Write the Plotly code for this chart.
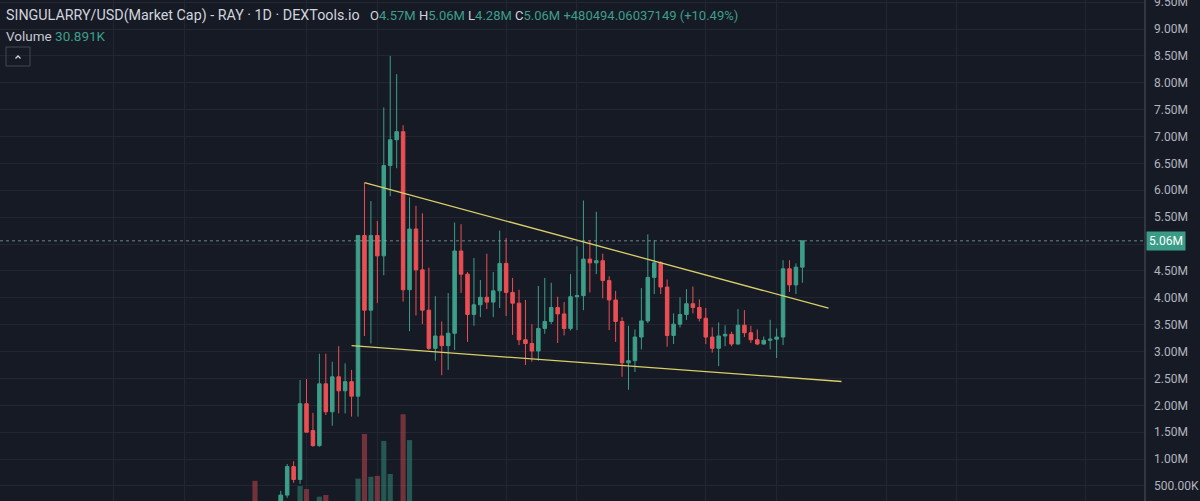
import plotly.graph_objects as go

# ---------------- data ----------------
day_index = list(range(-8, 78))

opens = [0.10, 0.07, 0.09, 0.12, 0.18, 0.33, 0.86, 0.62, 2.03, 1.53,
         1.25, 2.40, 1.88, 2.53, 2.27, 2.44, 2.17, 5.16, 3.77, 5.16,
         4.78, 6.46, 6.94, 7.09, 4.15, 5.28, 4.52, 3.77, 3.06, 3.29,
         3.11, 3.34, 4.87, 4.44, 3.69, 3.87, 4.01, 3.92, 4.13, 4.64,
         4.10, 3.90, 3.22, 3.15, 3.01, 3.43, 3.56, 3.82, 3.70, 3.43,
         4.02, 4.04, 4.72, 4.65, 4.69, 4.32, 3.96, 3.56, 2.79, 2.83,
         3.27, 3.57, 4.38, 4.65, 4.20, 3.30, 3.51, 3.69, 3.89, 3.82,
         3.62, 3.27, 3.06, 3.29, 3.32, 3.14, 3.49, 3.35, 3.22, 3.14,
         3.21, 3.23, 3.27, 4.54, 4.24, 4.57]
highs = [0.14, 0.12, 0.16, 0.19, 0.41, 0.91, 0.96, 2.47, 2.49, 1.86,
         2.96, 2.96, 2.81, 3.10, 2.78, 2.66, 5.16, 6.14, 5.80, 5.43,
         7.54, 8.50, 8.16, 7.21, 5.87, 5.71, 5.57, 4.56, 4.03, 3.56,
         4.09, 5.40, 5.37, 4.48, 4.74, 4.33, 4.82, 4.48, 5.25, 5.11,
         4.37, 4.15, 3.96, 3.51, 4.22, 4.37, 4.28, 4.02, 3.92, 4.44,
         4.96, 5.81, 5.07, 5.60, 4.82, 4.40, 4.13, 3.64, 3.48, 3.41,
         4.18, 5.18, 5.07, 4.68, 4.34, 3.71, 4.01, 4.16, 4.21, 3.97,
         3.81, 3.45, 3.54, 3.49, 3.37, 3.79, 3.77, 3.48, 3.41, 3.28,
         3.59, 3.43, 4.70, 4.70, 4.64, 5.06]
lows = [0.05, 0.05, 0.08, 0.10, 0.15, 0.28, 0.56, 0.54, 1.50, 1.23,
        1.23, 1.82, 1.62, 1.85, 1.85, 1.79, 1.79, 3.29, 3.15, 3.90,
        4.42, 5.89, 6.41, 3.93, 3.38, 3.67, 3.51, 3.03, 2.83, 2.56,
        2.66, 3.03, 4.09, 3.18, 3.48, 3.64, 3.79, 3.64, 3.81, 3.66,
        3.31, 3.12, 2.75, 2.81, 2.83, 3.33, 3.51, 3.16, 3.30, 3.39,
        3.40, 3.77, 4.10, 4.44, 3.99, 3.40, 3.18, 2.53, 2.29, 2.62,
        3.04, 3.53, 4.07, 4.07, 3.09, 3.14, 3.45, 3.59, 3.71, 3.56,
        3.14, 2.98, 2.73, 3.10, 3.10, 3.13, 3.27, 3.16, 3.12, 3.13,
        3.04, 2.88, 3.12, 4.11, 4.07, 4.28]
closes = [0.07, 0.09, 0.12, 0.18, 0.33, 0.86, 0.62, 2.03, 1.50, 1.25,
          2.40, 1.88, 2.53, 2.27, 2.44, 2.17, 5.16, 3.77, 5.16, 4.78,
          6.46, 6.94, 7.09, 4.15, 5.28, 4.52, 3.77, 3.06, 3.29, 3.11,
          3.34, 4.87, 4.44, 3.69, 3.87, 4.01, 3.92, 4.13, 4.64, 4.10,
          3.90, 3.22, 3.15, 3.01, 3.43, 3.56, 3.82, 3.70, 3.43, 4.02,
          4.04, 4.72, 4.65, 4.69, 4.32, 3.96, 3.56, 2.79, 2.83, 3.27,
          3.57, 4.38, 4.65, 4.20, 3.30, 3.51, 3.69, 3.89, 3.82, 3.62,
          3.27, 3.06, 3.29, 3.32, 3.14, 3.49, 3.35, 3.22, 3.14, 3.21,
          3.23, 3.27, 4.54, 4.24, 4.57, 5.06]
volumes_k = [185, 45, 38, 52, 118, 72, 66, 160, 146, 80,
             110, 118, 75, 70, 58, 64, 195, 406, 204, 208,
             373, 217, 84, 499, 377,
             78, 65, 72, 55, 48, 60, 70, 62, 58, 45,
             40, 38, 42, 55, 60, 52, 48, 44, 50, 46,
             41, 52, 49, 38, 35, 40, 47, 62, 58, 54,
             66, 70, 52, 44, 38, 36, 42, 50, 48, 56,
             60, 45, 40, 36, 33, 38, 35, 32, 30, 34,
             31, 29, 28, 33, 30, 27, 29, 64, 48, 40,
             30.891]

# trend lines (day index, market cap in millions)
upper_trend_x = [9, 81.06]
upper_trend_y = [6.141, 3.807]
lower_trend_x = [7, 83.07]
lower_trend_y = [3.109, 2.443]

# vertical grid positions (day index: month starts and 12th of months)
grid_days = [-30, -19, 0, 11, 31, 42, 62, 73, 90, 101, 121]

price_ticks = [0.5, 1.0, 1.5, 2.0, 2.5, 3.0, 3.5, 4.0, 4.5, 5.0,
               5.5, 6.0, 6.5, 7.0, 7.5, 8.0, 8.5, 9.0, 9.5]
price_labels = ["500.00K", "1.00M", "1.50M", "2.00M", "2.50M", "3.00M",
                "3.50M", "4.00M", "4.50M", "", "5.50M", "6.00M", "6.50M",
                "7.00M", "7.50M", "8.00M", "8.50M", "9.00M", "9.50M"]

last_price = 5.06
title_text = "SINGULARRY/USD(Market Cap) - RAY · 1D · DEXTools.io"
ohlc_items = [("O", "4.57M"), ("H", "5.06M"), ("L", "4.28M"), ("C", "5.06M")]
change_text = "+480494.06037149 (+10.49%)"
volume_text = "30.891K"

# ---------------- styling ----------------
BG = "#161a25"
GRID = "#232632"
UP = "#3d9e89"
DOWN = "#ec4f53"
UP_VOL = "rgba(52,150,130,0.5)"
DOWN_VOL = "rgba(225,80,88,0.45)"
TXT = "#d1d4dc"
AXTXT = "#b2b5be"
FONT = "Roboto"

W, H = 1200, 501
PLOT_W = 1145

fig = go.Figure()

vol_colors = [UP_VOL if c >= o else DOWN_VOL for o, c in zip(opens, closes)]
fig.add_trace(go.Bar(x=day_index, y=volumes_k, marker=dict(color=vol_colors, line=dict(width=0)),
                     width=0.8, yaxis="y2", hoverinfo="skip", showlegend=False))

fig.add_trace(go.Candlestick(
    x=day_index, open=opens, high=highs, low=lows, close=closes,
    increasing=dict(line=dict(color=UP, width=1), fillcolor=UP),
    decreasing=dict(line=dict(color=DOWN, width=1), fillcolor=DOWN),
    whiskerwidth=0, hoverinfo="skip", showlegend=False, yaxis="y"))

for tx, ty in ((upper_trend_x, upper_trend_y), (lower_trend_x, lower_trend_y)):
    fig.add_trace(go.Scatter(x=tx, y=ty, mode="lines", line=dict(color="#d9cf68", width=1.3),
                             hoverinfo="skip", showlegend=False))

# x-range so that day 0 sits at ~306px and 6.44 px per day
px_per_day = 6.44
x0 = 306.5
x_range = [(0 - x0) / px_per_day, (PLOT_W - x0) / px_per_day]
y_range = [0.2204, 9.5394]

fig.update_layout(
    width=W, height=H,
    margin=dict(l=0, r=W - PLOT_W, t=0, b=0, autoexpand=False),
    paper_bgcolor=BG, plot_bgcolor=BG,
    boxgap=0.22,
    showlegend=False,
    xaxis=dict(range=x_range, tickvals=grid_days, showticklabels=False, showgrid=True,
               gridcolor=GRID, gridwidth=1, zeroline=False, showline=False, automargin=False,
               rangeslider=dict(visible=False), fixedrange=True),
    yaxis=dict(range=y_range, side="right", tickvals=price_ticks, ticktext=price_labels,
               showgrid=True, gridcolor=GRID, gridwidth=1, zeroline=False, showline=False,
               ticks="", ticklabelstandoff=8, ticklabeloverflow="allow", automargin=False,
               tickfont=dict(family=FONT, size=12, color=AXTXT)),
    yaxis2=dict(overlaying="y", range=[89.6, 2452.8], showgrid=False, showticklabels=False,
                zeroline=False, showline=False, automargin=False),
    font=dict(family=FONT, color=TXT),
)

# price scale border
fig.add_shape(type="line", xref="paper", yref="paper", x0=1, x1=1, y0=0, y1=1,
              line=dict(color="#50535d", width=1))
# last price dotted line
fig.add_shape(type="line", xref="paper", yref="y", x0=0, x1=1, y0=last_price, y1=last_price,
              line=dict(color="rgba(140,170,165,0.75)", width=1, dash="dot"))
fig.add_annotation(xref="paper", yref="y", x=1, y=last_price, xanchor="left", yanchor="middle",
                   text=f"{last_price:.2f}M", showarrow=False, bgcolor="#3a9c86",
                   font=dict(family=FONT, size=12, color="#ffffff"), borderpad=2,
                   xshift=1)


def px(x):
    return x / PLOT_W


def py(y):
    return 1 - y / H


fig.add_annotation(xref="paper", yref="paper", x=px(4), y=py(15), xanchor="left", yanchor="middle",
                   text=title_text, showarrow=False,
                   font=dict(family=FONT, size=14.3, color=TXT))
ohlc_html = " ".join(f"{k}<span style='color:{UP}'>{v}</span>" for k, v in ohlc_items)
ohlc_html += f" <span style='color:{UP}'>{change_text}</span>"
fig.add_annotation(xref="paper", yref="paper", x=px(368), y=py(15), xanchor="left", yanchor="middle",
                   text=ohlc_html, showarrow=False,
                   font=dict(family=FONT, size=13, color=TXT))
fig.add_annotation(xref="paper", yref="paper", x=px(4), y=py(36), xanchor="left", yanchor="middle",
                   text=f"Volume <span style='color:{UP}'>{volume_text}</span>", showarrow=False,
                   font=dict(family=FONT, size=13.5, color="#c5c8d0"))
# collapse button
fig.add_shape(type="rect", xref="paper", yref="paper", x0=px(6), x1=px(30), y0=py(66), y1=py(47),
              line=dict(color="#434651", width=1), fillcolor="rgba(0,0,0,0)")
fig.add_shape(type="path", xref="paper", yref="paper",
              path=f"M {px(15.5)} {py(58.5)} L {px(18)} {py(56)} L {px(20.5)} {py(58.5)}",
              line=dict(color="#d1d4dc", width=1.3))

fig.write_html("out.html")
